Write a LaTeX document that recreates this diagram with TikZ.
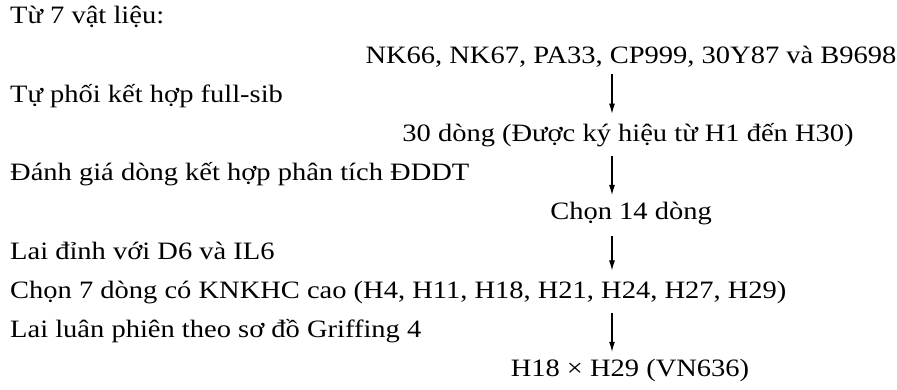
\documentclass[tikz,border=0pt]{standalone}
\usepackage{fontspec}
\setmainfont[FakeStretch=1.14]{Liberation Serif}
\usetikzlibrary{arrows.meta}
\usetikzlibrary{positioning, calc}

\tikzset{
  txt/.style={inner sep=0pt, font=\fontsize{25}{30}\selectfont},
  lefttxt/.style={txt, anchor=base west},
  midtxt/.style={txt, anchor=base},
  flow/.style={->, line width=1.1pt}
}

\begin{document}
\begin{tikzpicture}[>={Latex[length=10pt,width=6pt]}, x=1pt, y=-1pt]
    \useasboundingbox (0,0) rectangle (897,390);

    % steps on the left
    \node[lefttxt] (vl)   at (10, 24)    {Từ 7 vật liệu:};
    \node[lefttxt] (tp)   at (10, 102.4) {Tự phối kết hợp full-sib};
    \node[lefttxt] (dg)   at (10, 180.8) {Đánh giá dòng kết hợp phân tích ĐDDT};
    \node[lefttxt] (ld)   at (10, 259.2) {Lai đỉnh với D6 và IL6};
    \node[lefttxt] (c7)   at (10, 298.4) {Chọn 7 dòng có KNKHC cao (H4, H11, H18, H21, H24, H27, H29)};
    \node[lefttxt] (lp)   at (10, 337.6) {Lai luân phiên theo sơ đồ Griffing 4};

    % results in the middle
    \node[midtxt] (nk)   at (631, 63.2)  {NK66, NK67, PA33, CP999, 30Y87 và B9698};
    \node[midtxt] (d30)  at (628, 141.6) {30 dòng (Được ký hiệu từ H1 đến H30)};
    \node[midtxt] (c14)  at (631, 220)   {Chọn 14 dòng};
    \node[midtxt] (vn)   at (630, 376.8) {H18 × H29 (VN636)};

    \coordinate (ax) at (612, 0);
    \draw[flow] ($(nk.base -| ax)+(0,11)$)  -- ($(d30.base -| ax)+(0,-28)$);
    \draw[flow] ($(d30.base -| ax)+(0,14)$) -- ($(c14.base -| ax)+(0,-25)$);
    \draw[flow] ($(c14.base -| ax)+(0,16)$) -- ($(c7.base -| ax)+(0,-28)$);
    \draw[flow] ($(c7.base -| ax)+(0,15)$)  -- ($(vn.base -| ax)+(0,-25)$);
\end{tikzpicture}
\end{document}
